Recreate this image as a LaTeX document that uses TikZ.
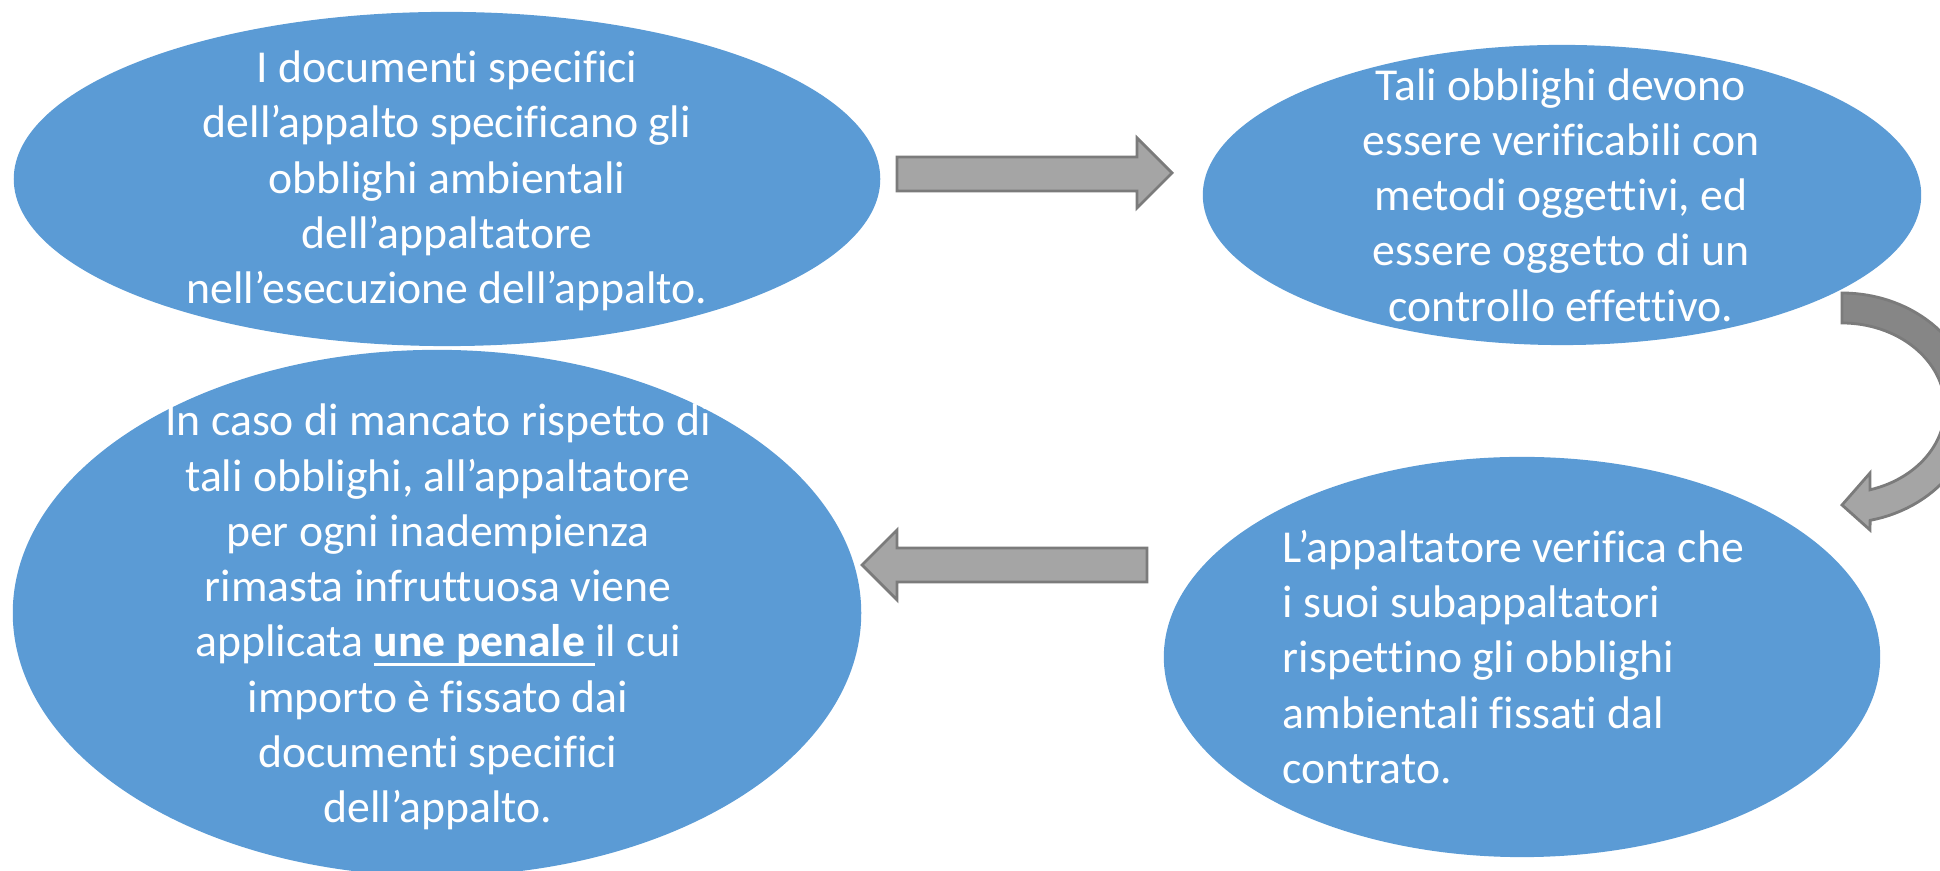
\documentclass[tikz,border=0pt]{standalone}
\usepackage{fontspec}
\setmainfont{Carlito}[Ligatures={NoCommon}]
\usepackage{tikz}
\usetikzlibrary{shapes}
\definecolor{bubblue}{HTML}{5B9BD5}
\definecolor{arrowgray}{HTML}{A5A5A5}
\definecolor{arrowdark}{HTML}{868686}
\definecolor{arrowedge}{HTML}{7B7B7B}
\tikzstyle{bubble}=[ellipse,fill=bubblue,draw=none,inner sep=0pt]
\tikzstyle{bubtext}=[text=white,inner sep=0pt,font=\fontsize{13}{15.7}\selectfont]
\tikzstyle{blockarrow}=[fill=arrowgray,draw=arrowedge,line width=0.8pt,line join=miter]
\newcommand{\sottolinea}[1]{\setbox0\hbox{#1}\rlap{\rule[-2.6pt]{\wd0}{0.7pt}}\box0}

\begin{document}
\begin{tikzpicture}[x=0.01cm,y=-0.01cm]

    \useasboundingbox (0,0) rectangle (1940,871);
    \clip (0,0) rectangle (1940,871);

    \foreach \pos/ \name / \w / \h in {{(447,179)/bubA/8.66/3.34},{(1562,195)/bubB/7.18/3.00},{(1522,657)/bubC/7.16/4.00},{(437,613)/bubD/8.48/5.26}}
        \node[bubble,minimum width=\w cm,minimum height=\h cm] (\name) at \pos {};

    \node[bubtext,align=center] (txtA) at (447,181) {I documenti specifici\\ dell’appalto specificano gli\\ obblighi ambientali\\ dell’appaltatore\\ nell’esecuzione dell’appalto.};
    \node[bubtext,align=center] (txtB) at (1561,195) {Tali obblighi devono\\ essere verificabili con\\ metodi oggettivi, ed\\ essere oggetto di un\\ controllo effettivo.};
    \node[bubtext,align=left,anchor=west] (txtC) at (1282,657) {L’appaltatore verifica che\\ i suoi subappaltatori\\ rispettino gli obblighi\\ ambientali fissati dal\\ contrato.};
    \node[bubtext,align=center] (txtD) at (438,617) {In caso di mancato rispetto di\\ tali obblighi, all’appaltatore\\ per ogni inadempienza\\ rimasta infruttuosa viene\\ applicata \sottolinea{\textbf{une penale}\ }il cui\\ importo è fissato dai\\ documenti specifici\\ dell’appalto.};

    % block arrows between the bubbles
    \draw[blockarrow] (897,157) -- (1137,157) -- (1137,138) -- (1172,173) -- (1137,208) -- (1137,191) -- (897,191) -- cycle;
    \draw[blockarrow] (1147,548) -- (897,548) -- (897,530) -- (862,565) -- (897,600) -- (897,582) -- (1147,582) -- cycle;
    \draw[blockarrow,path picture={\fill[arrowdark] (path picture bounding box.north west) rectangle (path picture bounding box.east);}]
        (1842,293) -- plot[domain=-90:77.7,samples=60] ({1842+132*cos(\x)},{408+115*sin(\x)})
        -- (1870,530) -- (1842,505) -- (1870,473)
        -- plot[domain=74.2:-90,samples=60] ({1842+103*cos(\x)},{408+85*sin(\x)}) -- cycle;

\end{tikzpicture}
\end{document}
